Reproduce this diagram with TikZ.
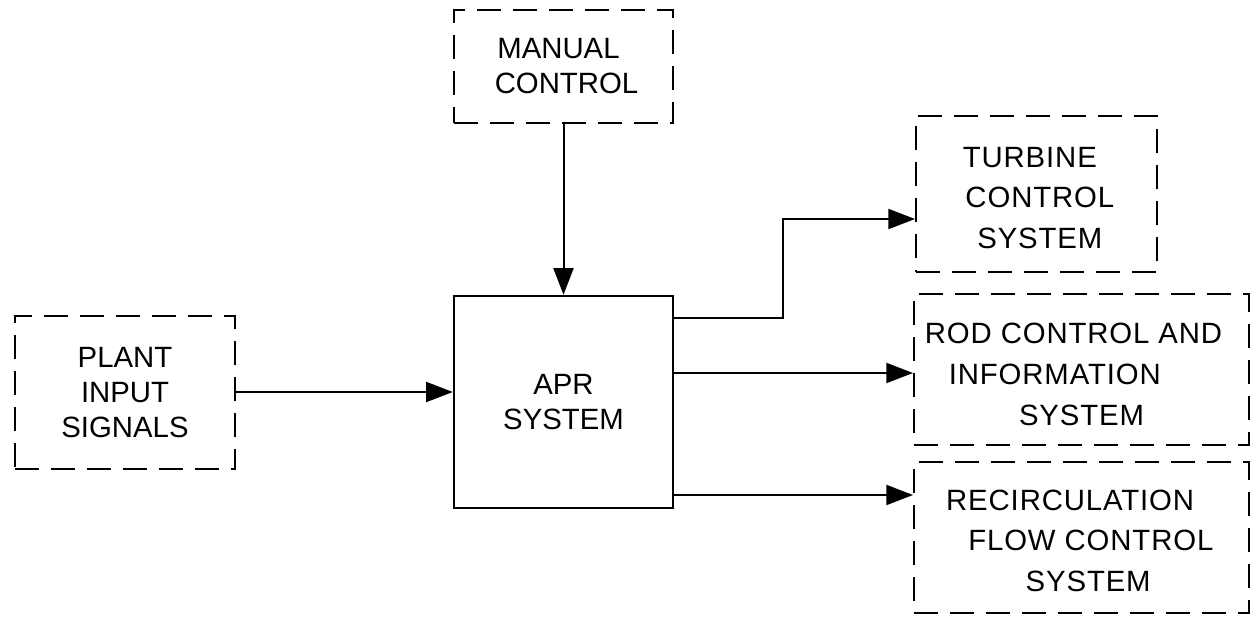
\documentclass[tikz,border=0pt]{standalone}
\usepackage{fontspec}
\setmainfont{Liberation Sans}
\newfontfamily\spacedfont{Liberation Sans}[LetterSpace=3]
\usetikzlibrary{arrows.meta}
\newcommand{\sh}[1]{\rule{#1}{0pt}}
\begin{document}
\begin{tikzpicture}[x=0.75pt,y=-0.75pt,
  line width=1.5pt,
  dbox/.style={draw, dash pattern=on 18pt off 9pt, inner sep=0pt, align=center,
    font={\fontsize{22}{26.25}\selectfont}},
  rbox/.style={draw, dash pattern=on 18pt off 9pt, inner sep=0pt, align=center,
    font={\spacedfont\fontsize{22}{30.5}\selectfont}},
  sbox/.style={draw, line width=1.8pt, inner sep=0pt, align=center,
    font={\fontsize{22}{26.25}\selectfont}},
  arr/.style={-{Triangle[length=20pt,width=15pt]}}]
\useasboundingbox (0,0) rectangle (1258,618);
\node[dbox, minimum width=164.25pt, minimum height=84.75pt] (manual) at (563.5,66.5)
  {MANUAL\sh{7.5pt}\\\sh{4.5pt}CONTROL};
\node[sbox, minimum width=164.25pt, minimum height=159pt] (apr) at (563.5,402)
  {APR\\SYSTEM};
\node[dbox, minimum width=165pt, minimum height=114.75pt] (plant) at (125,392.5)
  {PLANT\\INPUT\\SIGNALS};
\node[rbox, minimum width=180.75pt, minimum height=117pt] (turb) at (1036.5,194)
  {\rule{0pt}{21pt}TURBINE\sh{10pt}\\\sh{5pt}CONTROL\\\sh{5pt}SYSTEM};
\node[rbox, minimum width=251.25pt, minimum height=113.25pt] (rod) at (1081.5,369.5)
  {\rule{0pt}{22.5pt}ROD CONTROL AND\sh{12pt}\\INFORMATION\sh{40pt}\\SYSTEM};
\node[rbox, minimum width=251.25pt, minimum height=113.25pt] (recirc) at (1081.5,537.5)
  {\rule{0pt}{20.4pt}RECIRCULATION\sh{17pt}\\\sh{14pt}FLOW CONTROL\\\sh{10pt}SYSTEM};
\coordinate (a1) at (673,318);
\coordinate (b1) at (783,219);
\coordinate (a2) at (673,373);
\coordinate (a3) at (673,495);
\coordinate (p1) at (235,392);
\draw[arr] (manual.south) -- (apr.north);
\draw[arr] (p1) -- (p1 -| apr.west);
\draw[arr] (a1) -- (a1 -| b1) |- (turb.west |- b1);
\draw[arr] (a2) -- (a2 -| rod.west);
\draw[arr] (a3) -- (a3 -| recirc.west);
\end{tikzpicture}
\end{document}
